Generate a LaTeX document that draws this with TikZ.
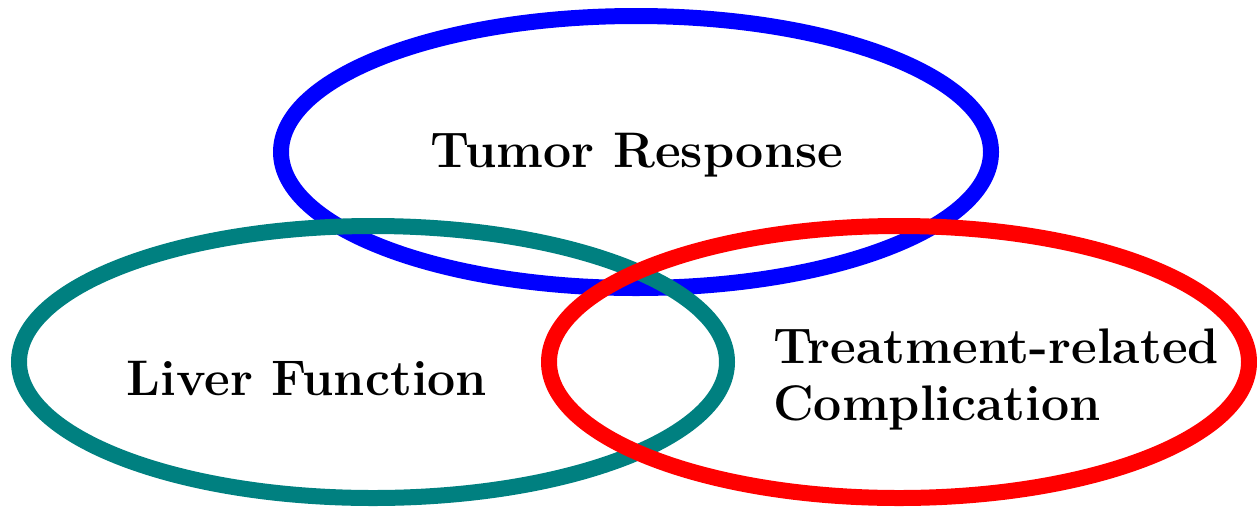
\documentclass[tikz,border=0pt]{standalone}
\usepackage{tikz}
\usepackage{xcolor}

\definecolor{tumorblue}{RGB}{0,0,255}
\definecolor{livergreen}{RGB}{0,128,128}
\definecolor{compred}{RGB}{255,0,0}

\tikzset{
  ring/.style={line width=16pt},
  label/.style={font=\fontsize{50}{57}\selectfont\bfseries, inner sep=0pt}
}

\begin{document}
\begin{tikzpicture}[x=1pt,y=-1pt]
\useasboundingbox (0,0) rectangle (1257,507);
% the three circles
\draw[ring,tumorblue] (636,152) ellipse (355pt and 136pt);
\draw[ring,livergreen] (373,362) ellipse (354pt and 136pt);
\draw[ring,compred] (899,362) ellipse (350pt and 136pt);
% labels
\node[label,anchor=base] (tumor) at (637,167) {Tumor Response};
\node[label,anchor=base] (liver) at (307,395) {Liver Function};
\node[label,anchor=base west,align=left] (comp) at (773,420) {Treatment-related\\Complication};
\end{tikzpicture}
\end{document}
